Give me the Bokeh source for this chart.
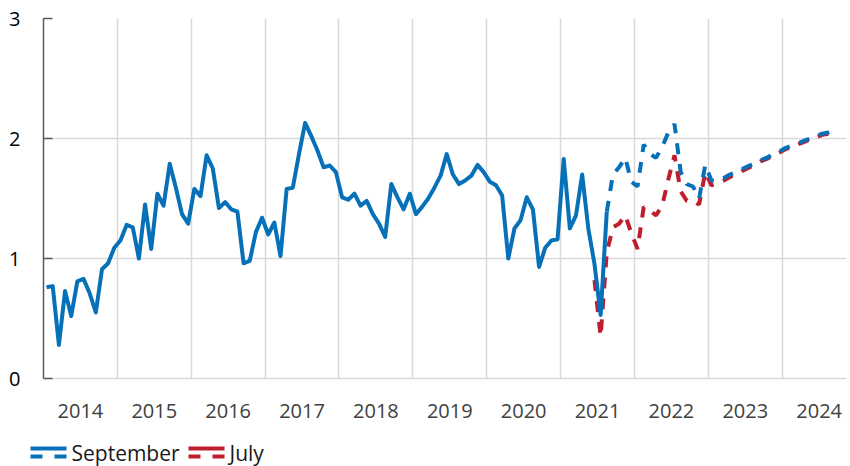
from bokeh.plotting import figure
from bokeh.models import Range1d, FixedTicker, CustomJSTickFormatter
from bokeh.layouts import column
from bokeh.embed import file_html
from bokeh.resources import INLINE
from bokeh.core.properties import value

# ---------------- data ----------------
year_labels = [str(y) for y in range(2014, 2025)]
series_names = ["September", "July"]

# Actual (solid), monthly Jan 2014 - Aug 2021
actual_start = (2014, 1)
actual = [
    0.76, 0.77, 0.28, 0.73, 0.52, 0.81, 0.83, 0.71, 0.55, 0.91, 0.96, 1.09,
    1.15, 1.28, 1.26, 1.00, 1.45, 1.08, 1.54, 1.44, 1.79, 1.59, 1.37, 1.29,
    1.58, 1.52, 1.86, 1.75, 1.42, 1.47, 1.41, 1.39, 0.96, 0.98, 1.22, 1.34,
    1.20, 1.30, 1.02, 1.58, 1.59, 1.87, 2.13, 2.02, 1.90, 1.76, 1.775, 1.72,
    1.51, 1.49, 1.54, 1.44, 1.48, 1.37, 1.29, 1.18, 1.62, 1.51, 1.41, 1.54,
    1.37, 1.43, 1.50, 1.59, 1.69, 1.87, 1.70, 1.62, 1.65, 1.69, 1.78, 1.72,
    1.64, 1.61, 1.525, 1.00, 1.25, 1.32, 1.51, 1.41, 0.93, 1.09, 1.15, 1.16,
    1.83, 1.25, 1.36, 1.70, 1.25, 0.955, 0.53, 1.39,
]

# September projection (dashed blue), monthly Aug 2021 - Sep 2024
september_start = (2021, 8)
september = [
    1.39, 1.70, 1.76, 1.84, 1.64,
    1.60, 1.95, 1.87, 1.84, 1.93, 2.05, 2.12, 1.72, 1.62, 1.60, 1.50, 1.78,
    1.65, 1.645, 1.67, 1.70, 1.72, 1.745, 1.77, 1.79, 1.82, 1.84, 1.87, 1.89,
    1.92, 1.94, 1.96, 1.98, 2.00, 2.02, 2.04, 2.05, 2.07,
]

# July projection (dashed red), monthly Jun 2021 - Sep 2024
july_start = (2021, 6)
july = [
    0.82, 0.35, 1.05, 1.26, 1.29, 1.36, 1.21,
    1.08, 1.43, 1.40, 1.36, 1.44, 1.66, 1.86, 1.56, 1.48, 1.48, 1.45, 1.72,
    1.61, 1.625, 1.65, 1.68, 1.70, 1.73, 1.755, 1.78, 1.81, 1.83, 1.86, 1.88,
    1.91, 1.93, 1.95, 1.97, 1.99, 2.01, 2.03, 2.04, 2.06,
]

y_ticks = [0, 1, 2, 3]

BLUE = "#0670B8"
RED = "#BE1E2D"
GRID = "#D9D9D9"
AXIS = "#595959"
FONT = "Open Sans"

LEFT, RIGHT_GAP, WIDTH = 43, 4, 850


def month_positions(start, n):
    y0, m0 = start
    return [y0 + (m0 - 1 + i + 0.5) / 12.0 for i in range(n)]


x_actual = month_positions(actual_start, len(actual))
x_sept = month_positions(september_start, len(september))
x_july = month_positions(july_start, len(july))

first_year = int(year_labels[0])
last_year = int(year_labels[-1])

# ---------------- main figure ----------------
p = figure(width=WIDTH, height=426,
           x_range=Range1d(first_year, last_year + 0.87),
           y_range=Range1d(y_ticks[0], y_ticks[-1]),
           output_backend="svg", toolbar_location=None,
           min_border_left=LEFT, min_border_right=RIGHT_GAP,
           min_border_top=18, min_border_bottom=48)
p.outline_line_color = None
p.background_fill_color = "white"
p.border_fill_color = "white"

# x axis: labels centred in each year, no ticks
p.xaxis.ticker = FixedTicker(ticks=[y + 0.5 for y in range(first_year, last_year + 1)])
p.xaxis.formatter = CustomJSTickFormatter(code="return Math.floor(tick).toString();")
p.xaxis.major_tick_in = 0
p.xaxis.major_tick_out = 0
p.xaxis.minor_tick_line_color = None
p.xaxis.axis_line_color = GRID
p.xaxis.axis_line_width = 1.5
p.xaxis.major_label_standoff = 25
p.xaxis.major_label_text_font = FONT
p.xaxis.major_label_text_font_size = "20px"
p.xaxis.major_label_text_color = "#404040"

# y axis
p.yaxis.ticker = FixedTicker(ticks=y_ticks)
p.yaxis.minor_tick_line_color = None
p.yaxis.axis_line_color = AXIS
p.yaxis.axis_line_width = 1.5
p.yaxis.major_tick_line_color = AXIS
p.yaxis.major_tick_line_width = 1.5
p.yaxis.major_tick_in = 9
p.yaxis.major_tick_out = 0
p.yaxis.major_label_standoff = 23
p.yaxis.major_label_text_font = FONT
p.yaxis.major_label_text_font_size = "20px"
p.yaxis.major_label_text_color = "#000000"

p.xgrid.ticker = FixedTicker(ticks=list(range(first_year + 1, last_year + 1)))
p.ygrid.ticker = FixedTicker(ticks=y_ticks)
p.xgrid.grid_line_color = GRID
p.ygrid.grid_line_color = GRID
p.xgrid.grid_line_width = 1.5
p.ygrid.grid_line_width = 1.5

p.line(x_july, july, line_color=RED, line_width=4, line_dash="11 10")
p.line(x_sept, september, line_color=BLUE, line_width=4, line_dash="11 10")
p.line(x_actual, actual, line_color=BLUE, line_width=4, line_join="round")

# ---------------- legend strip (own full-width frame; x and y in pixels) ----------------
LH = 40
lg = figure(width=WIDTH, height=LH,
            x_range=Range1d(0, WIDTH), y_range=Range1d(LH, 0),
            output_backend="svg", toolbar_location=None,
            x_axis_location=None, y_axis_location=None,
            min_border_left=0, min_border_right=0,
            min_border_top=0, min_border_bottom=0)
lg.frame_align = False
lg.outline_line_color = None
lg.grid.visible = False
lg.background_fill_color = "white"
lg.border_fill_color = "white"

for name, col, x0 in [(series_names[0], BLUE, 30), (series_names[1], RED, 188)]:
    lg.line([x0, x0 + 36], [22, 22], line_color=col, line_width=4)
    lg.line([x0, x0 + 36], [30, 30], line_color=col, line_width=4, line_dash="12 12")
    lg.text([x0 + 41], [26], text=[name], text_font=value(FONT),
            text_font_size="21px", text_baseline="middle", text_align="left",
            text_color="#1a1a1a")

layout = column(p, lg, spacing=0)
open("out.html", "w").write(file_html(layout, INLINE))
